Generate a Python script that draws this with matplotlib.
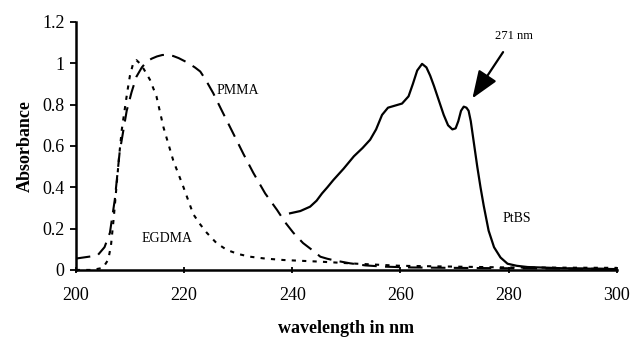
import numpy as np
import matplotlib.pyplot as plt

plt.rcParams['font.family'] = 'serif'
plt.rcParams['font.serif'] = ['Liberation Serif', 'DejaVu Serif']

# ---- data ----
pmma_x = [200, 204, 205.3, 206.3, 207.2, 208.1, 209.4, 210.3, 211.2, 212.2, 213.1, 214,
          215, 216, 217, 218, 219, 220.5, 222, 223, 224, 225.4, 227, 229.1, 231, 232.8,
          235, 237.2, 238.7, 240.2, 242, 244, 245.2, 246.5, 248, 250.7, 253.5, 256.9,
          262, 270, 285, 300]
pmma_y = [0.055, 0.07, 0.11, 0.18, 0.34, 0.57, 0.77, 0.86, 0.935, 0.98, 1.008, 1.022,
          1.033, 1.04, 1.04, 1.035, 1.025, 1.005, 0.98, 0.96, 0.92, 0.855, 0.77, 0.66,
          0.56, 0.47, 0.37, 0.29, 0.23, 0.18, 0.13, 0.09, 0.064, 0.054, 0.045, 0.032,
          0.022, 0.016, 0.012, 0.01, 0.007, 0.005]

egdma_x = [200, 203, 205, 206, 206.5, 207, 207.5, 208, 208.5, 209, 209.5, 210, 210.6,
           211.2, 211.8, 212.6, 213.7, 214.9, 216.2, 218, 219.9, 221.7, 223, 224.2,
           226, 227.9, 230, 232.2, 235, 238.4, 245.2, 252, 260, 280, 300]
egdma_y = [0.0, 0.0, 0.01, 0.05, 0.12, 0.25, 0.40, 0.55, 0.68, 0.77, 0.86, 0.94, 1.0,
           1.015, 1.0, 0.97, 0.92, 0.84, 0.69, 0.53, 0.40, 0.27, 0.22, 0.18,
           0.13, 0.097, 0.077, 0.064, 0.055, 0.048, 0.04, 0.03, 0.02, 0.012, 0.01]

ptbs_x = [239.6, 241.5, 243.3, 244.5, 245.5, 246.5, 247.6, 249.5, 251.4, 253, 254.4,
          255.5, 256.6, 257.7, 259, 260.3, 261.5, 262.3, 263.1, 264, 264.8, 265.5,
          266.2, 267.1, 268, 268.8, 269.6, 270.2, 270.7, 271.2, 271.7, 272.2, 272.6,
          273, 273.6, 274.2, 274.8, 275.4, 276.3, 277.3, 278.5, 279.8, 281.5, 283.5,
          290, 300]
ptbs_y = [0.274, 0.285, 0.306, 0.335, 0.37, 0.40, 0.435, 0.49, 0.55, 0.59, 0.63,
          0.68, 0.75, 0.785, 0.795, 0.805, 0.84, 0.90, 0.965, 0.997, 0.98, 0.94,
          0.89, 0.82, 0.75, 0.70, 0.68, 0.685, 0.72, 0.77, 0.79, 0.785, 0.77,
          0.72, 0.61, 0.50, 0.40, 0.31, 0.19, 0.11, 0.06, 0.03, 0.02, 0.014,
          0.008, 0.004]

yticks = [0, 0.2, 0.4, 0.6, 0.8, 1.0, 1.2]
ytick_labels = ['0', '0.2', '0.4', '0.6', '0.8', '1', '1.2']
xticks = [200, 220, 240, 260, 280, 300]

# ---- figure ----
fig = plt.figure(figsize=(6.32, 3.37), dpi=100)
ax = fig.add_axes([0.120, 0.199, 0.856, 0.736])

ax.plot(pmma_x, pmma_y, color='black', lw=1.5, linestyle=(0, (7, 4)))
ax.plot(egdma_x, egdma_y, color='black', lw=1.5, linestyle=(0, (2, 3)))
ax.plot(ptbs_x, ptbs_y, color='black', lw=1.6)

ax.set_xlim(200, 300)
ax.set_ylim(0, 1.2)
ax.set_xticks(xticks)
ax.set_yticks(yticks)
ax.set_yticklabels(ytick_labels)
ax.tick_params(labelsize=13, width=1.3, length=4)
ax.tick_params(axis='x', direction='inout', pad=10)
ax.tick_params(axis='y', direction='out', pad=4)
for s in ['top', 'right']:
    ax.spines[s].set_visible(False)
for s in ['left', 'bottom']:
    ax.spines[s].set_linewidth(1.8)

ax.set_ylabel('Absorbance', fontsize=13, fontweight='bold', labelpad=6)
ax.set_xlabel('wavelength in nm', fontsize=13, fontweight='bold', labelpad=12)

ax.text(226.0, 0.87, 'PMMA', fontsize=10, ha='left', va='center')
ax.text(216.8, 0.153, 'EGDMA', fontsize=10, ha='center', va='center')
ax.text(281.6, 0.25, 'PtBS', fontsize=10, ha='center', va='center')
ax.annotate('271 nm', xy=(273.3, 0.83), xytext=(280.9, 1.13), fontsize=9,
            ha='center', va='center',
            arrowprops=dict(arrowstyle='-|>,head_length=1.3,head_width=0.5',
                            mutation_scale=13, color='black', lw=1.6,
                            shrinkA=6, shrinkB=0))

fig.savefig('out.png', dpi=100)
